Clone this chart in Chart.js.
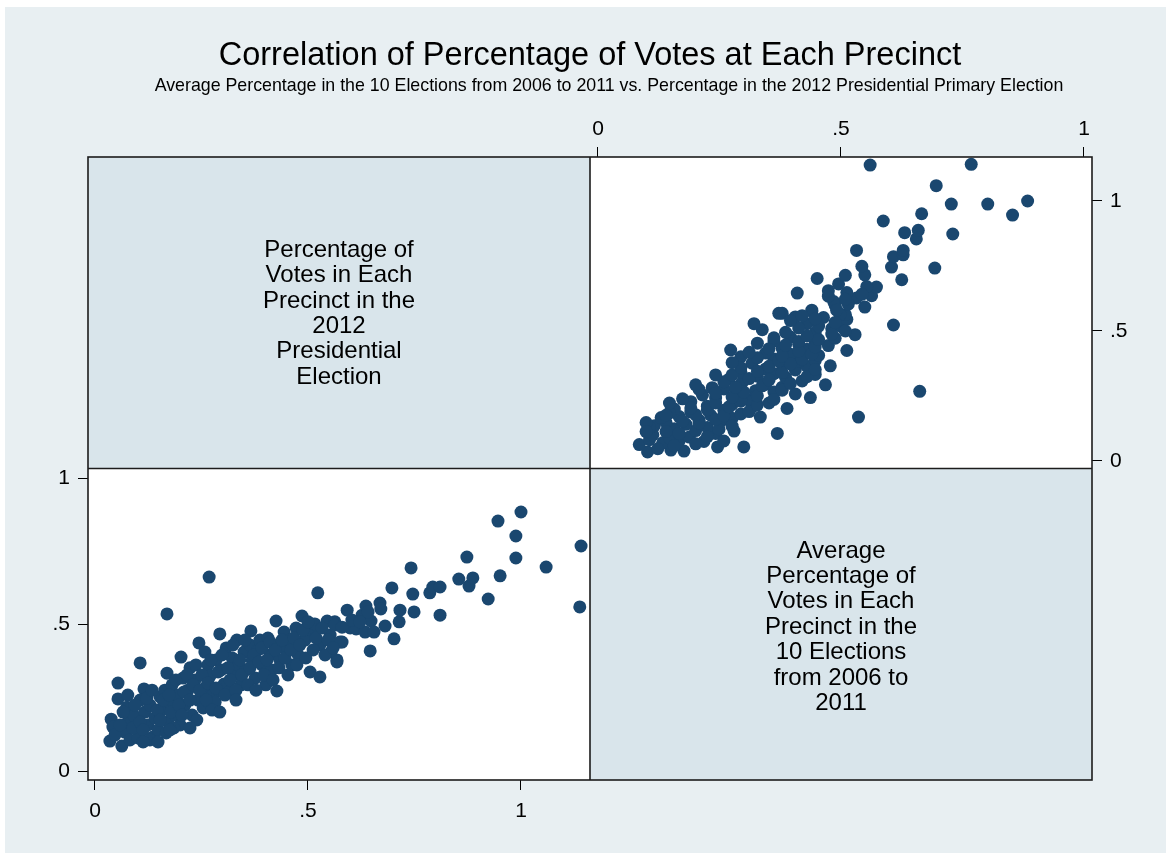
<!DOCTYPE html>
<html>
<head>
<meta charset="utf-8">
<title>Correlation of Percentage of Votes at Each Precinct</title>
<script src="https://cdn.jsdelivr.net/npm/chart.js@4.4.1/dist/chart.umd.min.js"></script>
<style>
    html, body { margin: 0; padding: 0; background: #fff; }
    #wrap { position: absolute; left: 0; top: 0; width: 1166px; height: 853px; }
</style>
</head>
<body>
<div id="wrap"><canvas id="matrix" width="1166" height="853"></canvas></div>
<script>
const titleText = 'Correlation of Percentage of Votes at Each Precinct';
const subtitleText = 'Average Percentage in the 10 Elections from 2006 to 2011 vs. Percentage in the 2012 Presidential Primary Election';

// diagonal labels of the matrix
const label2012 = ['Percentage of', 'Votes in Each', 'Precinct in the', '2012', 'Presidential', 'Election'];
const labelAvg = ['Average', 'Percentage of', 'Votes in Each', 'Precinct in the', '10 Elections', 'from 2006 to', '2011'];

const tickValues = [0, 0.5, 1];
const tickLabels = ['0', '.5', '1'];

// share of votes per precinct, 2012 presidential primary
const pct2012 = [
    0.035, 0.038, 0.054, 0.054, 0.063, 0.042, 0.075, 0.070, 0.082, 0.077,
    0.092, 0.101, 0.089, 0.106, 0.115, 0.106, 0.117, 0.124, 0.136, 0.129,
    0.141, 0.148, 0.153, 0.157, 0.169, 0.164, 0.169, 0.171, 0.176, 0.181,
    0.188, 0.195, 0.200, 0.202, 0.207, 0.211, 0.218, 0.223, 0.228, 0.235,
    0.244, 0.242, 0.254, 0.258, 0.258, 0.265, 0.270, 0.268, 0.277, 0.282,
    0.284, 0.293, 0.296, 0.303, 0.308, 0.315, 0.322, 0.326, 0.333, 0.336,
    0.343, 0.350, 0.354, 0.364, 0.366, 0.369, 0.376, 0.383, 0.387, 0.392,
    0.401, 0.406, 0.411, 0.415, 0.425, 0.427, 0.430, 0.434, 0.444, 0.448,
    0.458, 0.462, 0.472, 0.477, 0.486, 0.493, 0.505, 0.509, 0.516, 0.523,
    0.528, 0.528, 0.545, 0.552, 0.563, 0.568, 0.580, 0.592, 0.599, 0.613,
    0.627, 0.634, 0.636, 0.646, 0.648, 0.655, 0.669, 0.671, 0.681, 0.697,
    0.702, 0.714, 0.716, 0.742, 0.746, 0.749, 0.786, 0.793, 0.810, 0.810,
    0.854, 0.873, 0.878, 0.887, 0.923, 0.946, 0.951, 0.988, 0.988, 1.000,
    1.059, 1.138, 1.141, 0.554, 0.563, 0.568, 0.575, 0.580, 0.047, 0.059,
    0.066, 0.077, 0.094, 0.106, 0.113, 0.122, 0.129, 0.134, 0.146, 0.148,
    0.153, 0.160, 0.167, 0.174, 0.178, 0.185, 0.190, 0.197, 0.204, 0.209,
    0.216, 0.223, 0.230, 0.237, 0.239, 0.246, 0.251, 0.261, 0.265, 0.272,
    0.275, 0.284, 0.289, 0.298, 0.305, 0.312, 0.317, 0.324, 0.331, 0.340,
    0.345, 0.352, 0.359, 0.364, 0.373, 0.378, 0.385, 0.392, 0.397, 0.404,
    0.411, 0.418, 0.423, 0.432, 0.439, 0.446, 0.453, 0.460, 0.467, 0.474,
    0.481, 0.488, 0.495, 0.500, 0.512, 0.519, 0.533, 0.540, 0.547, 0.559,
    0.603, 0.622, 0.641, 0.331, 0.293, 0.223, 0.176, 0.113
];

// average share over the 10 elections 2006-2011, same precinct order
const avgPct = [
    0.102, 0.177, 0.300, 0.246, 0.085, 0.150, 0.218, 0.133, 0.106, 0.167,
    0.188, 0.113, 0.147, 0.369, 0.280, 0.242, 0.201, 0.157, 0.116, 0.225,
    0.181, 0.140, 0.253, 0.208, 0.334, 0.276, 0.536, 0.167, 0.232, 0.294,
    0.191, 0.259, 0.157, 0.389, 0.317, 0.225, 0.276, 0.352, 0.191, 0.311,
    0.437, 0.242, 0.215, 0.406, 0.283, 0.362, 0.324, 0.662, 0.259, 0.235,
    0.379, 0.468, 0.345, 0.297, 0.420, 0.270, 0.386, 0.328, 0.447, 0.362,
    0.294, 0.406, 0.345, 0.430, 0.478, 0.379, 0.317, 0.413, 0.447, 0.362,
    0.294, 0.454, 0.396, 0.345, 0.512, 0.273, 0.430, 0.379, 0.474, 0.413,
    0.447, 0.362, 0.488, 0.396, 0.529, 0.447, 0.338, 0.481, 0.502, 0.608,
    0.321, 0.430, 0.512, 0.464, 0.509, 0.379, 0.440, 0.549, 0.488, 0.485,
    0.532, 0.474, 0.563, 0.410, 0.512, 0.474, 0.573, 0.553, 0.495, 0.625,
    0.451, 0.509, 0.549, 0.693, 0.604, 0.543, 0.608, 0.628, 0.628, 0.532,
    0.655, 0.730, 0.631, 0.659, 0.587, 0.853, 0.666, 0.802, 0.727, 0.884,
    0.696, 0.560, 0.768, 0.406, 0.498, 0.372, 0.440, 0.491, 0.123, 0.157,
    0.201, 0.259, 0.225, 0.167, 0.140, 0.249, 0.106, 0.276, 0.208, 0.099,
    0.174, 0.242, 0.130, 0.259, 0.201, 0.147, 0.311, 0.225, 0.191, 0.270,
    0.328, 0.242, 0.294, 0.362, 0.174, 0.276, 0.328, 0.242, 0.300, 0.379,
    0.208, 0.283, 0.338, 0.396, 0.259, 0.352, 0.311, 0.430, 0.276, 0.379,
    0.328, 0.447, 0.294, 0.352, 0.396, 0.276, 0.372, 0.420, 0.328, 0.379,
    0.440, 0.311, 0.413, 0.352, 0.447, 0.386, 0.328, 0.413, 0.454, 0.362,
    0.430, 0.481, 0.386, 0.509, 0.413, 0.454, 0.488, 0.396, 0.447, 0.420,
    0.515, 0.509, 0.543, 0.242, 0.201, 0.147, 0.140, 0.099
];

const fontFamily = '"Liberation Sans", Arial, Helvetica, sans-serif';
const markerColor = '#1a476f';

function fixedTicks(scale) {
    scale.ticks = tickValues.map(v => ({ value: v }));
}

function tickLabel(value) {
    const i = tickValues.indexOf(value);
    return i >= 0 ? tickLabels[i] : '';
}

function axis(position, min, max, size, pad) {
    const horizontal = position === 'top' || position === 'bottom';
    return {
        type: 'linear',
        position: position,
        min: min,
        max: max,
        afterBuildTicks: fixedTicks,
        afterFit: (scale) => {
            if (horizontal) scale.height = size;
            else scale.width = size;
        },
        grid: { drawOnChartArea: false, drawTicks: true, tickLength: 10, color: '#000', lineWidth: 1 },
        border: { display: false },
        ticks: {
            color: '#000',
            font: { family: fontFamily, size: 21 },
            padding: pad,
            maxRotation: 0,
            autoSkip: false,
            callback: (value) => tickLabel(value)
        }
    };
}

// background, shaded diagonal cells, titles and diagonal labels
const matrixFrame = {
    id: 'matrixFrame',
    beforeDraw(chart) {
        const { ctx, chartArea: a } = chart;
        const midX = (a.left + a.right) / 2;
        const midY = (a.top + a.bottom) / 2;
        ctx.save();
        ctx.fillStyle = '#ffffff';
        ctx.fillRect(0, 0, chart.width, chart.height);
        ctx.fillStyle = '#e8eff2';
        ctx.fillRect(5, 7, chart.width - 5, chart.height - 7);

        ctx.fillStyle = '#d9e5eb';
        ctx.fillRect(a.left, a.top, midX - a.left, midY - a.top);
        ctx.fillRect(midX, midY, a.right - midX, a.bottom - midY);
        ctx.fillStyle = '#ffffff';
        ctx.fillRect(midX, a.top, a.right - midX, midY - a.top);
        ctx.fillRect(a.left, midY, midX - a.left, a.bottom - midY);

        ctx.fillStyle = '#000';
        ctx.textAlign = 'center';
        ctx.textBaseline = 'middle';
        ctx.font = '32.5px ' + fontFamily;
        ctx.fillText(titleText, 590, 56);
        ctx.font = '17.8px ' + fontFamily;
        ctx.fillText(subtitleText, 609, 86);

        ctx.font = '24px ' + fontFamily;
        const lineH = 25.4;
        const drawBlock = (lines, cx, cy) => {
            const start = cy - (lines.length - 1) * lineH / 2;
            lines.forEach((line, i) => ctx.fillText(line, cx, start + i * lineH));
        };
        drawBlock(label2012, (a.left + midX) / 2, (a.top + midY) / 2 + 1);
        drawBlock(labelAvg, (midX + a.right) / 2, (midY + a.bottom) / 2 + 3);
        ctx.restore();
    },
    afterDatasetsDraw(chart) {
        const { ctx, chartArea: a } = chart;
        const midX = (a.left + a.right) / 2;
        const midY = (a.top + a.bottom) / 2;
        ctx.save();
        ctx.strokeStyle = '#1c1c1c';
        ctx.lineWidth = 1.6;
        ctx.strokeRect(a.left, a.top, a.right - a.left, a.bottom - a.top);
        ctx.beginPath();
        ctx.moveTo(midX, a.top);
        ctx.lineTo(midX, a.bottom);
        ctx.moveTo(a.left, midY);
        ctx.lineTo(a.right, midY);
        ctx.stroke();
        ctx.restore();
    }
};

new Chart(document.getElementById('matrix'), {
    type: 'scatter',
    data: {
        datasets: [
            {
                label: '2012 vs average',
                data: pct2012.map((v, i) => ({ x: v, y: avgPct[i] })),
                xAxisID: 'x',
                yAxisID: 'y',
                backgroundColor: markerColor,
                borderWidth: 0,
                pointRadius: 6.5
            },
            {
                label: 'average vs 2012',
                data: avgPct.map((v, i) => ({ x: v, y: pct2012[i] })),
                xAxisID: 'x2',
                yAxisID: 'y2',
                backgroundColor: markerColor,
                borderWidth: 0,
                pointRadius: 6.5
            }
        ]
    },
    options: {
        responsive: false,
        animation: false,
        layout: { padding: { top: 117, left: 48, right: 34, bottom: 33 } },
        plugins: {
            legend: { display: false },
            tooltip: { enabled: false }
        },
        scales: {
            x: axis('bottom', -0.0164, 2.3404, 40, 9),
            y: axis('left', -0.0307, 2.0956, 40, 8),
            x2: axis('top', -1.0494, 1.0165, 40, 5),
            y2: axis('right', -1.2269, 1.1692, 40, 8)
        }
    },
    plugins: [matrixFrame]
});
</script>
</body>
</html>
